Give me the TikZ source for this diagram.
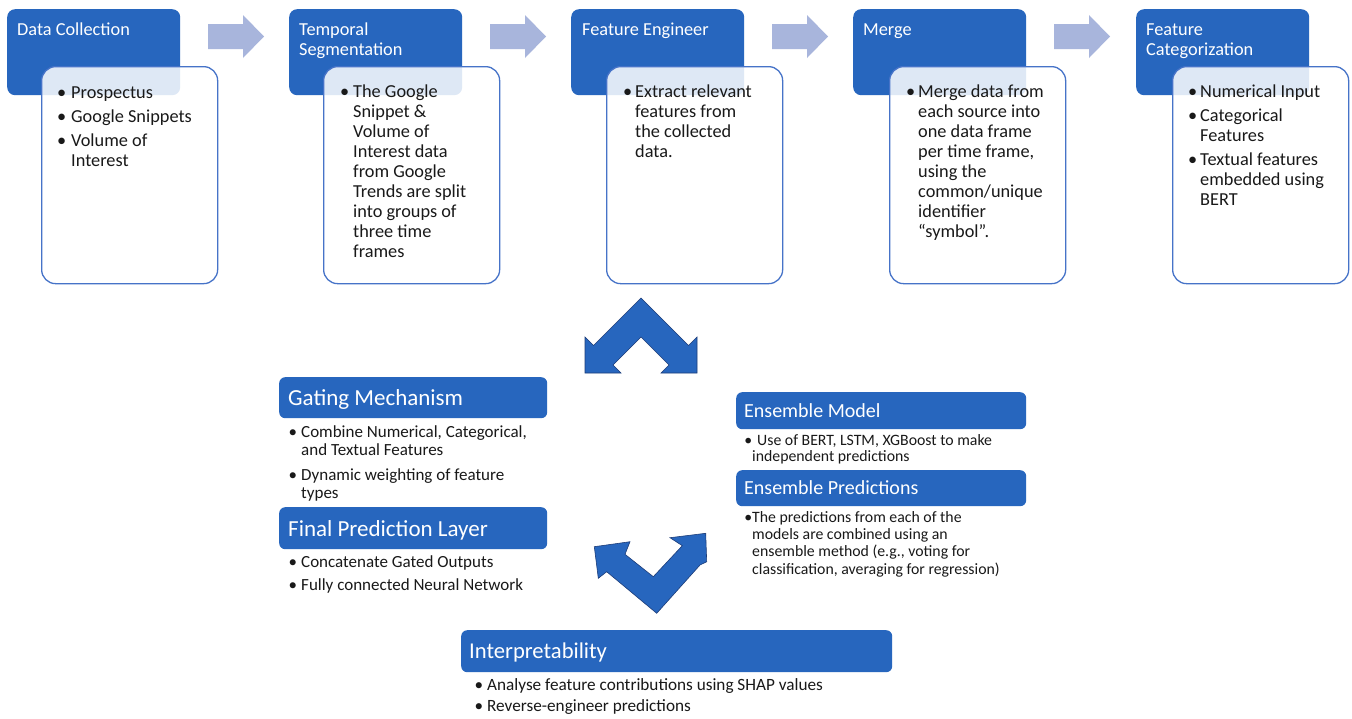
\documentclass[tikz,border=0pt]{standalone}
\usepackage{fontspec}
\setmainfont{Carlito}
\definecolor{hblue}{RGB}{39,102,190}
\definecolor{bord}{RGB}{70,115,200}
\definecolor{arr}{RGB}{168,181,220}
\definecolor{chevline}{RGB}{28,60,120}
\definecolor{ink}{RGB}{25,25,25}
\newcommand\fsz[2]{\fontsize{#1}{#2}\selectfont}
\newcommand\bulg[1]{\leavevmode\llap{•\hspace{#1}}}
\tikzset{
 hdrbox/.style={fill=hblue, rounded corners=8pt, inner sep=0pt, anchor=north west, minimum width=173pt, minimum height=86pt},
 wbox/.style={draw=bord, line width=1.3pt, fill=white, fill opacity=0.85, rounded corners=14pt, inner sep=0pt, anchor=north west, minimum width=176pt, minimum height=217pt},
 lowhdr/.style={fill=hblue, rounded corners=6pt, inner sep=0pt, anchor=north west},
 htext/.style={text=white, anchor=base west, inner sep=0pt},
 btext/.style={text=ink, anchor=base west, inner sep=0pt},
 flowarrow/.style={fill=arr},
 chev/.style={fill=hblue, draw=chevline, line width=0.6pt, line join=miter},
}
\begin{document}
\begin{tikzpicture}[x=1pt,y=-1pt]
\useasboundingbox (0,0) rectangle (1352,718);
\fill[white] (0,0) rectangle (1352,718);

% ---- top row header boxes
\node[hdrbox] (h1) at (7,9) {};
\node[hdrbox] (h2) at (289,9) {};
\node[hdrbox] (h3) at (571,9) {};
\node[hdrbox] (h4) at (853,9) {};
\node[hdrbox] (h5) at (1136,9) {};

% ---- white content boxes
\node[wbox] (w1) at (41,66) {};
\node[wbox] (w2) at (323,66) {};
\node[wbox] (w3) at (606,66) {};
\node[wbox] (w4) at (889,66) {};
\node[wbox] (w5) at (1172,66) {};

% ---- flow arrows
\foreach \ax in {208,490,772,1054}{
  \fill[flowarrow] (\ax,24) -- ++(35,0) -- ++(0,-9) -- ++(21,21.5) -- ++(-21,21.5) -- ++(0,-9) -- ++(-35,0) -- cycle;
}

% ---- header texts
\node[htext] (h1t) at (17,35) {\parbox[t]{160pt}{\fsz{18.3}{20}Data Collection}};
\node[htext] (h2t) at (299,35) {\parbox[t]{160pt}{\fsz{18.3}{20}Temporal\\Segmentation}};
\node[htext] (h3t) at (582,35) {\parbox[t]{160pt}{\fsz{18.3}{20}Feature Engineer}};
\node[htext] (h4t) at (863,35) {\parbox[t]{160pt}{\fsz{18.3}{20}Merge}};
\node[htext] (h5t) at (1146,35) {\parbox[t]{160pt}{\fsz{18.3}{20}Feature\\Categorization}};

% ---- body texts
\node[btext] (b1) at (71,98) {\parbox[t]{190pt}{\fsz{18.3}{20}\setlength\parskip{4pt}%
\bulg{5pt}Prospectus\par\bulg{5pt}Google Snippets\par\bulg{5pt}Volume of\\Interest}};
\node[btext] (b2) at (353,97) {\parbox[t]{190pt}{\fsz{18.3}{20}\setlength\parskip{4pt}%
\bulg{4pt}The Google\\Snippet \&\\Volume of\\Interest data\\from Google\\Trends are split\\into groups of\\three time\\frames}};
\node[btext] (b3) at (635,97) {\parbox[t]{190pt}{\fsz{18.3}{20}\setlength\parskip{4pt}%
\bulg{3pt}Extract relevant\\features from\\the collected\\data.}};
\node[btext] (b4) at (918,97) {\parbox[t]{190pt}{\fsz{18.3}{20}\setlength\parskip{4pt}%
\bulg{3pt}Merge data from\\each source into\\one data frame\\per time frame,\\using the\\common/unique\\identifier\\“symbol”.}};
\node[btext] (b5) at (1200,97) {\parbox[t]{190pt}{\fsz{18.3}{20}\setlength\parskip{4pt}%
\bulg{3pt}Numerical Input\par\bulg{3pt}Categorical\\Features\par\bulg{3pt}Textual features\\embedded using\\BERT}};

% ---- chevron arrows
\filldraw[chev] (641,298) -- (688.5,345.5) -- (697,337) -- (697,373) -- (661,373) -- (669,365) -- (641,337)
  -- (613,365) -- (621,373) -- (585,373) -- (585,337) -- (593.5,345.5) -- cycle;
\filldraw[chev] (656.7,613.3) -- (606.7,571.7) -- (598.3,578.3) -- (594.3,546.7) -- (630,541.7) -- (625,554.3)
  -- (653.3,576.7) -- (682.3,545.7) -- (670,537.7) -- (705.7,533.3) -- (706.7,561.7) -- (700,565) -- cycle;

% ---- lower section headers
\node[lowhdr, minimum width=268pt, minimum height=41pt] (gm) at (279,377) {};
\node[lowhdr, minimum width=268pt, minimum height=42pt] (fp) at (279,507) {};
\node[lowhdr, minimum width=290pt, minimum height=37pt] (em) at (736,392) {};
\node[lowhdr, minimum width=290pt, minimum height=36pt] (ep) at (736,470) {};
\node[lowhdr, minimum width=431pt, minimum height=42pt] (ip) at (461,630) {};

\node[htext] (gmt) at (288,405) {\fsz{23}{26}Gating Mechanism};
\node[htext] (fpt) at (288,536) {\fsz{23}{26}Final Prediction Layer};
\node[htext] (emt) at (744,417) {\fsz{20}{24}Ensemble Model};
\node[htext] (ept) at (744,494) {\fsz{20}{24}Ensemble Predictions};
\node[htext] (ipt) at (469,658) {\fsz{22.6}{26}Interpretability};

% ---- lower section bullets
\node[btext] (gmb) at (301,437) {\parbox[t]{300pt}{\fsz{17}{18}\setlength\parskip{7pt}%
\bulg{4pt}Combine Numerical, Categorical,\\and Textual Features\par\bulg{4pt}Dynamic weighting of feature\\types}};
\node[btext] (fpb) at (301,567) {\parbox[t]{300pt}{\fsz{17}{18}\setlength\parskip{5pt}%
\bulg{4pt}Concatenate Gated Outputs\par\bulg{4pt}Fully connected Neural Network}};
\node[btext] (emb) at (752,445) {\parbox[t]{300pt}{\fsz{15.8}{16.5}%
\leavevmode\llap{•}\hspace{5pt}Use of BERT, LSTM, XGBoost to make\\independent predictions}};
\node[btext] (epb) at (752,522) {\parbox[t]{300pt}{\fsz{15.8}{17.4}%
\leavevmode\llap{•}The predictions from each of the\\models are combined using an\\ensemble method (e.g., voting for\\classification, averaging for regression)}};
\node[btext] (ipb) at (487,690) {\parbox[t]{400pt}{\fsz{17.2}{21}%
\bulg{4pt}Analyse feature contributions using SHAP values\par\bulg{4pt}Reverse-engineer predictions}};
\end{tikzpicture}
\end{document}
